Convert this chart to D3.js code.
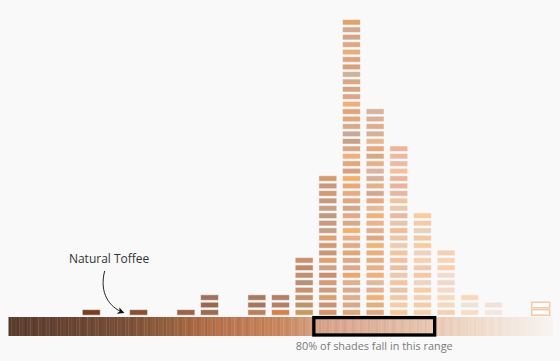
<!DOCTYPE html>
<html>
<head>
<meta charset="utf-8">
<script src="https://cdn.jsdelivr.net/npm/d3@7"></script>
<style>
  body { margin: 0; background: #f9f9f9; }
  svg { display: block; font-family: "Open Sans", sans-serif; }
</style>
</head>
<body>
<svg id="chart" width="560" height="361"></svg>
<script>
// Foundation shades, binned by lightness (dark -> light).
// Each brick is one shade, listed bottom to top.

//// DATA ///////////////////////////////////////////////////////////////////////

var binCount = 23;
var maxStack = 40;

var binIds = [3, 5, 7, 8, 10, 11, 12, 13, 14, 15, 16, 17, 18, 19, 20, 22];

var binShades = [
	["#7c3f1f"],
	["#8a5234"],
	["#9a6446"],
	["#9c6b52", "#9a6850", "#a0705a"],
	["#b8805e", "#a87660", "#aa7a60"],
	["#d8804c", "#b08068", "#b0806a"],
	["#c89a60", "#c09468", "#c49272", "#c89070", "#b89078", "#c09070", "#c08a6a", "#c99070"],
	["#d49468", "#c89478", "#d8a070", "#d09a80", "#d49a78", "#c89070", "#d0a088", "#e0a070", "#c8987a", "#d49a78",
	 "#e0a070", "#c4a08a", "#c89a80", "#c09880", "#c8a088", "#c99880", "#d49872", "#c8987e", "#d49a70"],
	["#e0a67c", "#d8a888", "#e0ac8a", "#d8aa90", "#dcb090", "#e8a870", "#dca890", "#d8aa88", "#e0a878", "#e0ac88",
	 "#e8b08a", "#f0b070", "#d8aa8a", "#e4a888", "#d0a890", "#e0a880", "#e8aa80", "#e8a878", "#f0b070", "#d8a082",
	 "#e0a87c", "#f0b07a", "#d8a888", "#c8a088", "#c8a898", "#d4aa8c", "#e0a87c", "#e0a47c", "#eeb07a", "#d8a888",
	 "#d4a484", "#d8a888", "#d0b098", "#d8a07c", "#dca482", "#e4b080", "#dca888", "#d4a48a", "#d4a88c", "#e0a46a"],
	["#e4a880", "#e0b080", "#f0b078", "#e4b090", "#e0b8a0", "#f0b080", "#e8b088", "#e0b088", "#e8b080", "#f0b478",
	 "#e0a880", "#e0b090", "#e8b490", "#f0b080", "#e8b898", "#e8a888", "#d4a890", "#e8b088", "#d8b098", "#dcb49c",
	 "#e8b088", "#d8a888", "#e8a880", "#e8b890", "#d8b098", "#e0ac90", "#dcb096", "#d4b49c"],
	["#f8c89c", "#f4cca8", "#f0c8a8", "#e8c4a8", "#f4c4a0", "#ecc8b0", "#e8c0a8", "#f0c0a0", "#f4c4a0", "#ecccb0",
	 "#ecc4a8", "#f0bc98", "#e8c4b0", "#e8b8a0", "#e8c8b0", "#f0c4a0", "#eab4a0", "#e8b49c", "#ecb49c", "#f0c0a0",
	 "#e8bca4", "#ecb8a0", "#ecb49c"],
	["#f8d0b0", "#f4cca8", "#f0d0b8", "#f8cca4", "#eed4c0", "#f4c8a8", "#f0cab0", "#f6d0b0", "#ecd2c0", "#f8cca0",
	 "#f0c8a8", "#e8d0bc", "#f4caa8", "#f8cca0"],
	["#f4d0b8", "#f4d8c0", "#f8d8bc", "#f4dac8", "#f0d8c8", "#f0dcd0", "#f8d0b0", "#f4d4bc", "#f4d0b4"],
	["#f8dcc8", "#efe2dc", "#f8d8bc"],
	["#f3e6de", "#f0e2da"],
	["#ffffff", "#ffffff"]
];

var outlineBins = [22];
var outlineColor = "#f3c9a8";

// lightness strip along the bottom
var stripStops = [0, 0.112, 0.222, 0.296, 0.351, 0.425, 0.498, 0.571, 0.682, 0.756, 0.866, 1];
var stripColors = ["#5a3c2e", "#684432", "#7c5038", "#94603e", "#ae6a46", "#be7a54",
                   "#c9865e", "#d7a287", "#dfb49c", "#e6c2ac", "#f0dccc", "#f8f3f0"];

var rangeBins = [13, 17];
var rangeLabel = "80% of shades fall in this range";

var noteBin = 5;
var noteLabel = "Natural Toffee";


//// SETUP //////////////////////////////////////////////////////////////////////

var svg = d3.select("#chart");

var baseline = 316;

var x = d3.scaleBand()
	.domain(d3.range(binCount))
	.range([8.5, 552.5])
	.paddingInner(0.2)
	.paddingOuter(0.1);

var y = d3.scaleLinear()
	.domain([0, maxStack])
	.range([baseline, 18.4]);

var pitch = y(0) - y(1);


//// BRICKS /////////////////////////////////////////////////////////////////////

var bricks = [];
binIds.forEach(function(bin, k) {
	binShades[k].forEach(function(c, i) {
		bricks.push({ bin: bin, level: i, color: c });
	});
});

svg.append("g").selectAll("rect")
	.data(bricks)
	.join("rect")
		.attr("x", function(d) { return x(d.bin) + 0.5; })
		.attr("y", function(d) { return y(d.level + 1) + 1.1; })
		.attr("width", x.bandwidth() - 1)
		.attr("height", pitch - 1.9)
		.attr("fill", function(d) { return d.color; })
		.attr("stroke", function(d) {
			return outlineBins.indexOf(d.bin) >= 0 ? outlineColor : "rgba(255,255,255,0.5)";
		})
		.attr("stroke-width", function(d) {
			return outlineBins.indexOf(d.bin) >= 0 ? 1.5 : 1;
		});


//// STRIP //////////////////////////////////////////////////////////////////////

var stripX = d3.scaleLinear().domain([0, 1]).range(x.range());
var stripColor = d3.scaleLinear()
	.domain(stripStops)
	.range(stripColors)
	.interpolate(d3.interpolateRgb);

var stripN = 200;
var stripW = (x.range()[1] - x.range()[0]) / stripN;

svg.append("g").selectAll("rect")
	.data(d3.range(stripN))
	.join("rect")
		.attr("x", function(i) { return stripX(i / stripN); })
		.attr("y", 317)
		.attr("width", stripW + 0.3)
		.attr("height", 19)
		.attr("fill", function(i) {
			var c = d3.color(stripColor((i + 0.5) / stripN));
			var t = (i / stripN);
			if (i % 3 === 0) return c.darker(0.2 * (1 - t));
			if (i % 3 === 2) return c.brighter(0.1 * (1 - t));
			return c;
		});


//// RANGE BOX //////////////////////////////////////////////////////////////////

var boxLeft = x(rangeBins[0]) - 4.5;
var boxRight = x(rangeBins[1]) + x.bandwidth() + 2.8;

svg.append("rect")
	.attr("x", boxLeft)
	.attr("y", 317.6)
	.attr("width", boxRight - boxLeft)
	.attr("height", 17.4)
	.attr("fill", "none")
	.attr("stroke", "#000")
	.attr("stroke-width", 3.3);

svg.append("text")
	.attr("x", (boxLeft + boxRight) / 2)
	.attr("y", 350)
	.attr("text-anchor", "middle")
	.style("font-size", "10.9px")
	.style("fill", "#7a7a7a")
	.text(rangeLabel);


//// ANNOTATION /////////////////////////////////////////////////////////////////

svg.append("defs").append("marker")
	.attr("id", "head")
	.attr("viewBox", "0 0 10 10")
	.attr("refX", 8)
	.attr("refY", 5)
	.attr("markerWidth", 7)
	.attr("markerHeight", 7)
	.attr("orient", "auto")
	.append("path")
		.attr("d", "M0,0 L10,5 L0,10 L3,5 Z")
		.attr("fill", "#111");

var tipX = x(noteBin) - 4;
var tipY = baseline - 3;

svg.append("path")
	.attr("d", "M" + (tipX - 20.5) + "," + (tipY - 42) +
		" C" + (tipX - 26) + "," + (tipY - 20) + " " + (tipX - 16) + "," + (tipY - 6) + " " + (tipX - 2) + "," + (tipY - 0.5))
	.attr("fill", "none")
	.attr("stroke", "#222")
	.attr("stroke-width", 1)
	.attr("marker-end", "url(#head)");

svg.append("text")
	.attr("x", tipX - 16)
	.attr("y", 263)
	.attr("text-anchor", "middle")
	.style("font-size", "12px")
	.style("fill", "#333")
	.text(noteLabel);
</script>
</body>
</html>
